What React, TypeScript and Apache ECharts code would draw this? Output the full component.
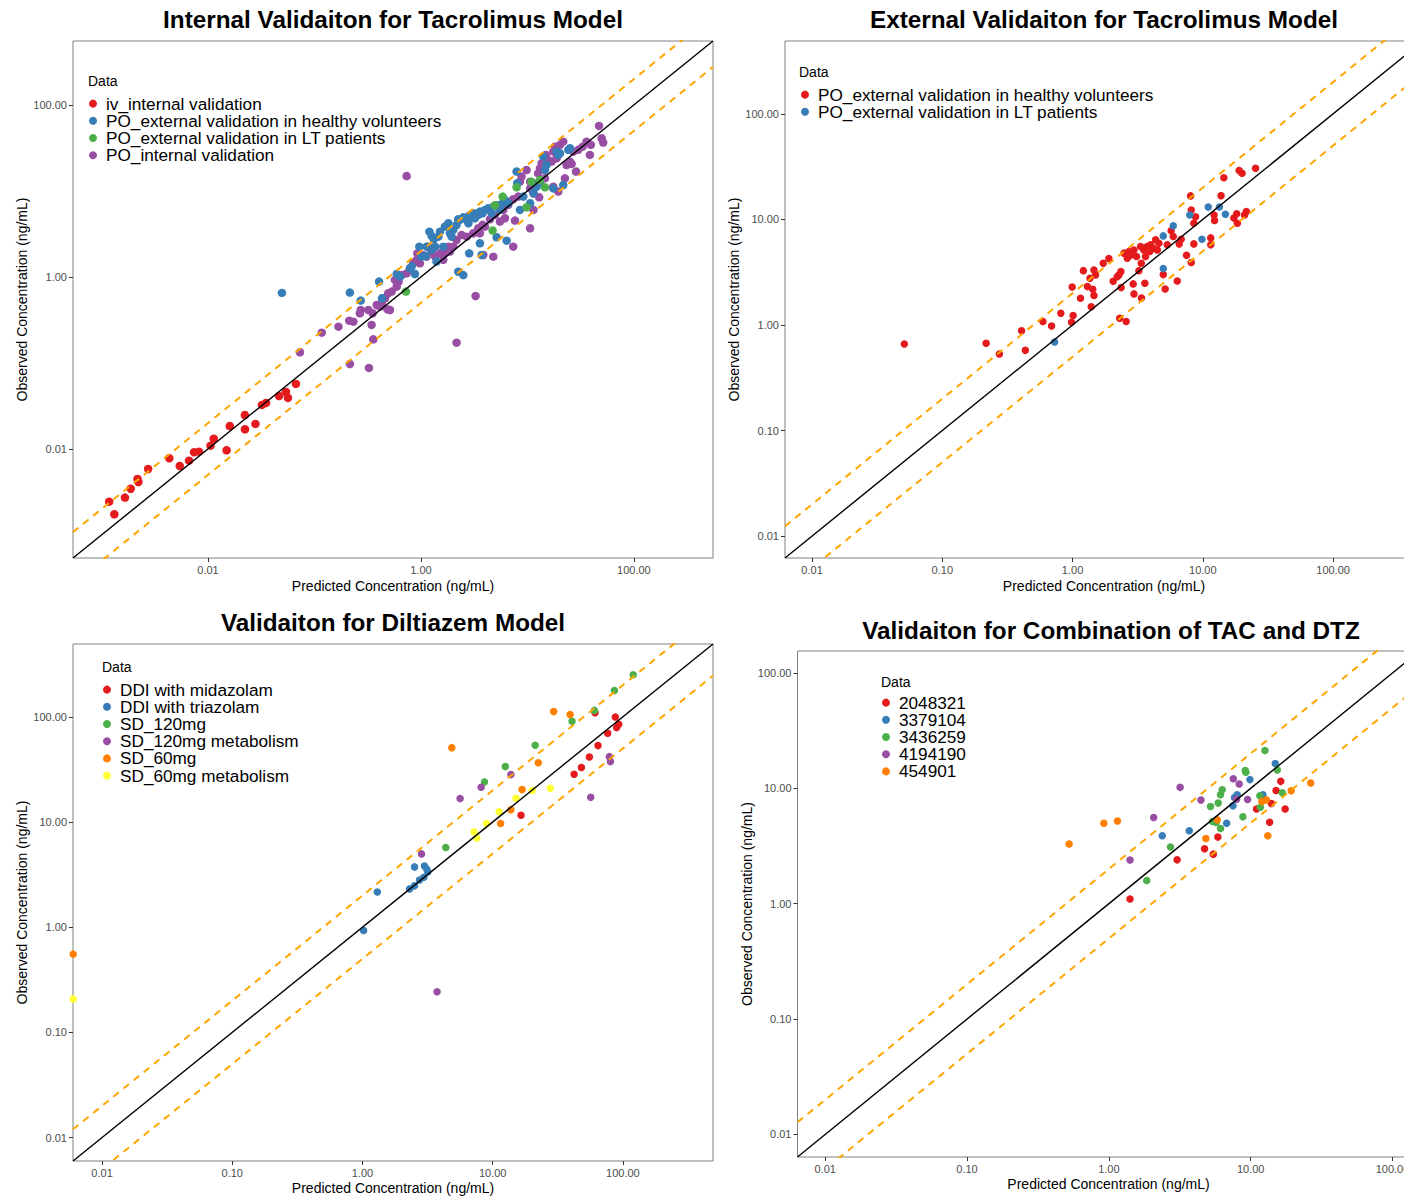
import React, { useEffect, useRef } from "react";
import * as echarts from "echarts";

type Pt = [number, number];

const FONT = "'Liberation Sans', Arial, Helvetica, sans-serif";
const RED = "#E41A1C";
const BLUE = "#377EB8";
const GREEN = "#4DAF4A";
const PURPLE = "#984EA3";
const ORANGE = "#FF7F00";
const YELLOW = "#FFFF33";

const X_NAME = "Predicted Concentration (ng/mL)";
const Y_NAME = "Observed Concentration (ng/mL)";

const ticksP1 = [0.01, 1, 100];
const ticksDecade = [0.01, 0.1, 1, 10, 100];

// ---------------- Panel 1: Internal validation (tacrolimus) ----------------
const p1Title = "Internal Validaiton for Tacrolimus Model";
const p1Range: Pt = [0.00054, 553];
const p1IvInternal: Pt[] = [
  [0.00118, 0.00244], [0.00132, 0.00174], [0.00166, 0.00272], [0.00188, 0.00345], [0.00218, 0.00448],
  [0.00222, 0.00413], [0.00274, 0.00585], [0.00433, 0.0078], [0.00543, 0.00634], [0.00664, 0.00731],
  [0.0074, 0.00917], [0.00824, 0.00931], [0.01057, 0.01092], [0.01133, 0.01318], [0.01496, 0.00966],
  [0.01603, 0.01849], [0.02225, 0.01694], [0.02792, 0.01954], [0.0222, 0.0248], [0.0321, 0.0325],
  [0.0351, 0.0343], [0.0465, 0.0413], [0.054, 0.046], [0.0564, 0.0392], [0.067, 0.057],
];
const p1PoExtHealthy: Pt[] = [
  [0.0495, 0.652], [0.215, 0.657], [0.272, 0.531], [0.404, 0.883], [0.431, 0.565], [0.592, 1.08],
  [0.635, 1.01], [0.789, 1.26], [0.818, 1.32], [0.966, 2.25], [1.01, 1.72], [1.11, 1.75], [1.13, 2.25],
  [1.2, 3.36], [1.26, 3.0], [1.32, 2.74], [1.36, 2.25], [1.4, 1.51], [1.46, 2.94], [1.51, 3.36],
  [1.68, 3.85], [1.81, 4.21], [1.87, 3.22], [2.01, 3.52], [2.16, 4.02], [2.32, 4.6], [2.5, 4.94],
  [2.69, 4.6], [2.79, 4.21], [2.88, 5.26], [3.1, 5.5], [3.21, 4.81], [3.45, 5.26], [3.58, 5.75],
  [3.79, 5.5], [3.99, 6.01], [4.29, 6.28], [4.61, 5.5], [4.78, 6.57], [5.14, 6.81], [5.52, 6.01],
  [5.85, 7.18], [6.15, 7.85], [6.61, 7.18], [7.91, 16.8], [8.03, 12.3], [8.51, 6.01], [9.15, 8.59],
  [10.6, 7.18], [11.4, 9.4], [12.2, 11.2], [13.1, 12.3], [14.1, 25.1], [14.6, 17.5], [15.1, 20.0],
  [17.5, 10.7], [18.8, 28.6], [19.5, 26.2], [20.2, 27.4], [21.7, 11.7], [24.2, 30.0], [25.1, 31.3],
  [2.24, 1.15], [2.5, 1.05], [2.84, 1.88], [3.58, 2.46], [3.72, 1.8], [5.14, 2.89], [6.38, 2.64],
  [2.24, 4.68], [1.94, 2.94], [1.62, 2.25], [1.26, 2.06], [0.879, 1.08],
];
const p1PoExtLT: Pt[] = [
  [0.723, 0.675], [4.71, 3.46], [4.95, 6.81], [5.85, 8.59], [7.91, 11.0], [9.82, 6.46], [10.9, 12.8],
  [14.6, 11.0], [13.1, 13.4],
];
const p1PoInternal: Pt[] = [
  [47.0, 57.0], [49.8, 40.9], [51.5, 36.5], [39.4, 34.3], [35.9, 37.4], [38.6, 26.2], [33.0, 32.7],
  [30.0, 30.0], [27.0, 28.6], [25.1, 21.9], [26.0, 20.6], [28.6, 16.8], [22.5, 14.0], [21.7, 37.4],
  [20.2, 34.3], [18.1, 32.7], [17.5, 28.6], [18.8, 24.0], [16.9, 21.9], [15.7, 22.9], [14.9, 26.2],
  [13.6, 21.0], [13.1, 18.3], [12.6, 16.0], [14.6, 14.0], [11.4, 12.3], [12.9, 8.43], [11.4, 9.4],
  [10.6, 12.8], [10.6, 10.7], [9.82, 17.5], [8.81, 14.7], [8.51, 12.8], [8.2, 8.59], [7.36, 8.0],
  [6.61, 6.87], [5.93, 6.01], [5.32, 6.68], [4.95, 5.26], [4.45, 4.68], [3.99, 3.85], [3.79, 4.03],
  [3.45, 3.68], [3.1, 3.22], [2.69, 2.94], [2.41, 3.08], [2.16, 2.69], [2.01, 2.25], [1.81, 2.25],
  [1.68, 1.88], [1.51, 1.88], [1.36, 1.72], [1.26, 1.97], [1.13, 1.72], [1.05, 1.8], [0.979, 1.44],
  [0.925, 1.88], [0.847, 1.44], [0.789, 1.26], [0.734, 1.1], [0.659, 1.05], [0.617, 0.883],
  [0.57, 0.923], [0.592, 0.771], [0.531, 0.675], [0.493, 0.646], [0.459, 0.565], [0.428, 0.494],
  [0.412, 0.452], [0.384, 0.472], [0.352, 0.378], [0.344, 0.277], [0.321, 0.413], [0.272, 0.413],
  [0.267, 0.378], [0.232, 0.302], [0.212, 0.31], [0.168, 0.264], [0.117, 0.225], [0.0731, 0.133],
  [0.357, 0.188], [0.512, 0.413], [0.483, 0.421], [0.734, 14.9], [2.16, 0.172], [3.26, 0.601],
  [10.6, 3.68], [7.36, 2.25], [3.85, 1.8], [7.64, 4.52], [6.15, 4.81], [11.4, 6.01], [17.5, 11.2],
  [19.5, 9.82], [23.3, 20.0], [4.78, 1.72], [3.58, 3.22], [5.52, 4.4], [1.62, 1.58], [1.87, 1.97],
  [0.912, 1.58], [1.17, 2.25], [0.215, 0.0973], [0.325, 0.0875],
];

// ---------------- Panel 2: External validation (tacrolimus) ----------------
const p2Title = "External Validaiton for Tacrolimus Model";
const p2Range: Pt = [0.0062, 490];
const p2Healthy: Pt[] = [
  [0.0511, 0.661], [0.217, 0.67], [0.274, 0.531], [0.406, 0.883], [0.434, 0.575], [0.592, 1.08],
  [0.69, 0.979], [0.813, 1.29], [0.993, 2.29], [1.01, 1.23], [0.982, 1.06], [1.15, 1.79], [1.21, 3.27],
  [1.3, 2.31], [1.36, 2.77], [1.39, 1.49], [1.43, 2.18], [1.46, 3.32], [1.5, 2.98], [1.46, 1.9],
  [1.72, 3.85], [1.9, 4.26], [2.05, 2.59], [2.2, 2.87], [2.27, 2.98], [2.35, 3.21], [2.36, 2.26],
  [2.3, 1.16], [2.58, 1.08], [2.48, 4.79], [2.63, 4.29], [2.71, 4.96], [2.82, 4.61], [2.96, 5.14],
  [2.92, 2.45], [2.96, 1.97], [3.1, 4.45], [3.23, 3.27], [3.33, 5.53], [3.37, 3.85], [3.38, 1.8],
  [3.52, 5.14], [3.63, 4.45], [3.59, 2.48], [3.74, 5.53], [3.92, 4.96], [3.97, 5.74], [4.16, 5.33],
  [4.34, 6.4], [4.47, 5.14], [4.6, 5.94], [4.97, 3.0], [5.14, 2.19], [5.33, 5.74], [5.71, 7.83],
  [5.93, 6.89], [6.36, 2.61], [6.59, 5.86], [6.82, 6.49], [7.5, 4.58], [8.05, 16.7], [8.15, 12.3],
  [8.15, 3.9], [8.53, 9.2], [8.79, 10.6], [8.53, 5.86], [11.5, 5.74], [11.5, 6.68], [12.2, 11.0],
  [12.3, 9.75], [13.8, 16.8], [14.5, 24.8], [17.3, 10.3], [18.2, 11.3], [18.4, 9.2], [19.0, 29.0],
  [20.0, 27.4], [20.9, 11.0], [21.6, 11.9], [25.4, 30.5],
];
const p2LT: Pt[] = [
  [0.728, 0.69], [4.97, 6.98], [4.97, 3.42], [5.93, 8.69], [7.94, 11.0], [9.84, 6.49], [11.0, 13.1],
  [13.4, 13.1], [14.9, 11.2],
];

// ---------------- Panel 3: Diltiazem ----------------
const p3Title = "Validaiton for Diltiazem Model";
const p3Range: Pt = [0.00598, 492];
const p3Midazolam: Pt[] = [
  [61.1, 109], [87.5, 99.5], [92.9, 84.7], [89.5, 78.9], [76.4, 69.7], [64.4, 53.2], [55.3, 41.5],
  [48.0, 32.9], [42.2, 28.4], [16.5, 11.6],
];
const p3Triazolam: Pt[] = [
  [1.02, 0.929], [1.3, 2.16], [2.3, 2.31], [2.51, 2.47], [2.74, 2.81], [2.96, 2.98], [3.17, 3.35],
  [2.51, 3.74], [2.99, 3.82], [3.12, 3.56],
];
const p3SD120: Pt[] = [
  [120, 251], [86.1, 178], [60.4, 115], [40.7, 90.5], [21.2, 53.6], [12.5, 33.6], [8.65, 24.0], [4.36, 5.71],
];
const p3SD120Met: Pt[] = [
  [2.84, 4.97], [5.62, 16.7], [8.15, 21.4], [13.8, 28.2], [56.6, 17.2], [78.7, 41.8], [80.2, 37.5], [3.74, 0.243],
];
const p3SD60: Pt[] = [
  [0.006, 0.554], [4.85, 50.9], [29.4, 112], [39.3, 105], [22.4, 36.6], [16.8, 20.3], [13.8, 13.1], [11.5, 9.66],
];
const p3SD60Met: Pt[] = [
  [0.006, 0.207], [7.19, 8.04], [7.55, 7.05], [8.96, 9.66], [11.2, 12.5], [15.1, 16.8], [20.1, 19.9], [27.7, 20.9],
];

// ---------------- Panel 4: Combination TAC + DTZ ----------------
const p4Title = "Validaiton for Combination of TAC and DTZ";
const p4Range: Pt = [0.00638, 155];
const p4S2048321: Pt[] = [
  [1.41, 1.1], [3.03, 2.4], [4.73, 2.99], [5.45, 2.69], [5.87, 3.78], [11.0, 6.61], [13.6, 5.09],
  [14.0, 7.39], [15.1, 9.58], [16.3, 11.5], [17.5, 6.61],
];
const p4S3379104: Pt[] = [
  [2.38, 3.88], [3.69, 4.29], [6.77, 4.99], [7.5, 7.05], [7.69, 8.34], [8.04, 8.79], [9.88, 11.9],
  [12.2, 8.79], [14.9, 16.4],
];
const p4S3436259: Pt[] = [
  [1.85, 1.59], [2.72, 3.1], [5.21, 6.96], [5.9, 7.45], [6.13, 8.79], [6.3, 9.71], [5.38, 5.16],
  [5.71, 5.06], [6.13, 4.49], [8.81, 5.66], [9.16, 14.3], [9.25, 13.8], [11.6, 8.61], [11.7, 6.87],
  [12.6, 21.3], [15.4, 14.4], [16.7, 9.14],
];
const p4S4194190: Pt[] = [
  [1.41, 2.39], [2.07, 5.58], [3.18, 10.2], [4.46, 7.91], [7.54, 12.1], [8.3, 10.9], [7.96, 8.05], [9.51, 8.0],
];
const p4S454901: Pt[] = [
  [0.525, 3.29], [0.922, 4.99], [1.15, 5.2], [4.83, 3.68], [5.81, 5.33], [12.0, 7.69], [12.9, 7.94],
  [13.2, 3.88], [19.3, 9.51], [26.5, 11.1],
];

type Group = { name: string; color: string; data: Pt[] };
type Panel = {
  title: string;
  titlePos: Pt;
  grid: { left: number; top: number; width: number; height: number };
  range: Pt;
  ticks: number[];
  symbolSize: number;
  xNameGap: number;
  yNameGap: number;
  dataLabel: Pt;
  legendPos: Pt;
  groups: Group[];
  drawOrder: number[];
};

const panels: Panel[] = [
  {
    title: p1Title, titlePos: [393, 19],
    grid: { left: 73, top: 41, width: 640, height: 517 },
    range: p1Range, ticks: ticksP1, symbolSize: 8.5, xNameGap: 21, yNameGap: 44,
    dataLabel: [88, 81], legendPos: [89, 95],
    groups: [
      { name: "iv_internal validation", color: RED, data: p1IvInternal },
      { name: "PO_external validation in healthy volunteers", color: BLUE, data: p1PoExtHealthy },
      { name: "PO_external validation in LT patients", color: GREEN, data: p1PoExtLT },
      { name: "PO_internal validation", color: PURPLE, data: p1PoInternal },
    ],
    drawOrder: [3, 1, 2, 0],
  },
  {
    title: p2Title, titlePos: [1104, 19],
    grid: { left: 785, top: 41, width: 638, height: 517 },
    range: p2Range, ticks: ticksDecade, symbolSize: 7.5, xNameGap: 21, yNameGap: 44,
    dataLabel: [799, 72], legendPos: [801, 86],
    groups: [
      { name: "PO_external validation in healthy volunteers", color: RED, data: p2Healthy },
      { name: "PO_external validation in LT patients", color: BLUE, data: p2LT },
    ],
    drawOrder: [0, 1],
  },
  {
    title: p3Title, titlePos: [393, 622],
    grid: { left: 73, top: 644, width: 640, height: 517 },
    range: p3Range, ticks: ticksDecade, symbolSize: 7.5, xNameGap: 20, yNameGap: 44,
    dataLabel: [102, 667], legendPos: [103, 681],
    groups: [
      { name: "DDI with midazolam", color: RED, data: p3Midazolam },
      { name: "DDI with triazolam", color: BLUE, data: p3Triazolam },
      { name: "SD_120mg", color: GREEN, data: p3SD120 },
      { name: "SD_120mg metabolism", color: PURPLE, data: p3SD120Met },
      { name: "SD_60mg", color: ORANGE, data: p3SD60 },
      { name: "SD_60mg metabolism", color: YELLOW, data: p3SD60Met },
    ],
    drawOrder: [0, 1, 2, 3, 4, 5],
  },
  {
    title: p4Title, titlePos: [1111, 630],
    grid: { left: 797.5, top: 651, width: 622, height: 506 },
    range: p4Range, ticks: ticksDecade, symbolSize: 7.5, xNameGap: 20, yNameGap: 41,
    dataLabel: [881, 682], legendPos: [882, 694],
    groups: [
      { name: "2048321", color: RED, data: p4S2048321 },
      { name: "3379104", color: BLUE, data: p4S3379104 },
      { name: "3436259", color: GREEN, data: p4S3436259 },
      { name: "4194190", color: PURPLE, data: p4S4194190 },
      { name: "454901", color: ORANGE, data: p4S454901 },
    ],
    drawOrder: [0, 1, 2, 3, 4],
  },
];

function axisCommon(p: Panel, i: number, name: string, gap: number) {
  return {
    type: "log",
    logBase: 10,
    gridIndex: i,
    min: p.range[0],
    max: p.range[1],
    name,
    nameLocation: "middle",
    nameGap: gap,
    nameTextStyle: { fontSize: 14, color: "#000", fontFamily: FONT },
    axisLine: { show: false },
    axisTick: {
      show: true,
      customValues: p.ticks,
      length: 4,
      inside: false,
      lineStyle: { color: "#333333", width: 1 },
    },
    axisLabel: {
      show: true,
      customValues: p.ticks,
      formatter: (v: number) => Number(v).toFixed(2),
      fontSize: 11,
      color: "#4d4d4d",
      fontFamily: FONT,
      margin: 6,
    },
    splitLine: { show: false },
    minorTick: { show: false },
    minorSplitLine: { show: false },
  };
}

export default function App() {
  const ref = useRef<HTMLDivElement>(null);

  useEffect(() => {
    if (!ref.current) return;
    const chart = echarts.init(ref.current, null, { renderer: "svg" });

    const series: any[] = [];
    panels.forEach((p, i) => {
      p.drawOrder.forEach((gi) => {
        const g = p.groups[gi];
        series.push({
          type: "scatter",
          name: g.name,
          xAxisIndex: i,
          yAxisIndex: i,
          data: g.data,
          symbol: "circle",
          symbolSize: p.symbolSize,
          itemStyle: { color: g.color, opacity: 1 },
          silent: true,
          z: 2,
        });
      });
      const [lo, hi] = p.range;
      const lines: { key: string; data: Pt[]; color: string; type: any; width: number }[] = [
        { key: "upper", data: [[lo, lo * 2], [hi, hi * 2]], color: "#FFA500", type: [7, 6], width: 2 },
        { key: "lower", data: [[lo, lo / 2], [hi, hi / 2]], color: "#FFA500", type: [7, 6], width: 2 },
        { key: "identity", data: [[lo, lo], [hi, hi]], color: "#000000", type: "solid", width: 1.4 },
      ];
      lines.forEach((l) => {
        series.push({
          type: "line",
          name: `__${l.key}_${i}`,
          xAxisIndex: i,
          yAxisIndex: i,
          data: l.data,
          symbol: "none",
          clip: true,
          silent: true,
          z: 3,
          lineStyle: { color: l.color, width: l.width, type: l.type },
        });
      });
    });

    const graphics: any[] = [];
    panels.forEach((p) => {
      graphics.push({
        type: "text",
        x: p.titlePos[0],
        y: p.titlePos[1],
        silent: true,
        style: {
          text: p.title,
          fill: "#000",
          fontSize: 24.3,
          fontWeight: "bold",
          fontFamily: FONT,
          align: "center",
          verticalAlign: "middle",
        },
      });
      graphics.push({
        type: "text",
        x: p.dataLabel[0],
        y: p.dataLabel[1],
        silent: true,
        style: {
          text: "Data",
          fill: "#000",
          fontSize: 14,
          fontFamily: FONT,
          align: "left",
          verticalAlign: "middle",
        },
      });
    });

    const option: any = {
      animation: false,
      backgroundColor: "#ffffff",
      grid: panels.map((p) => ({
        left: p.grid.left,
        top: p.grid.top,
        width: p.grid.width,
        height: p.grid.height,
        show: true,
        borderColor: "#808080",
        borderWidth: 1,
        backgroundColor: "transparent",
        containLabel: false,
        outerBoundsMode: "none",
      })),
      xAxis: panels.map((p, i) => axisCommon(p, i, X_NAME, p.xNameGap)),
      yAxis: panels.map((p, i) => axisCommon(p, i, Y_NAME, p.yNameGap)),
      legend: panels.map((p) => ({
        orient: "vertical",
        left: p.legendPos[0],
        top: p.legendPos[1],
        padding: 0,
        itemGap: 0,
        itemWidth: 16,
        itemHeight: 8,
        icon: "circle",
        selectedMode: false,
        textStyle: { fontSize: 17.2, lineHeight: 17.2, color: "#000", fontFamily: FONT },
        data: p.groups.map((g) => ({ name: g.name, itemStyle: { color: g.color } })),
      })),
      graphic: graphics,
      series,
    };

    chart.setOption(option);
    return () => {
      chart.dispose();
    };
  }, []);

  return (
    <div
      ref={ref}
      style={{ position: "absolute", left: 0, top: 0, width: 1404, height: 1196, background: "#fff" }}
    />
  );
}
